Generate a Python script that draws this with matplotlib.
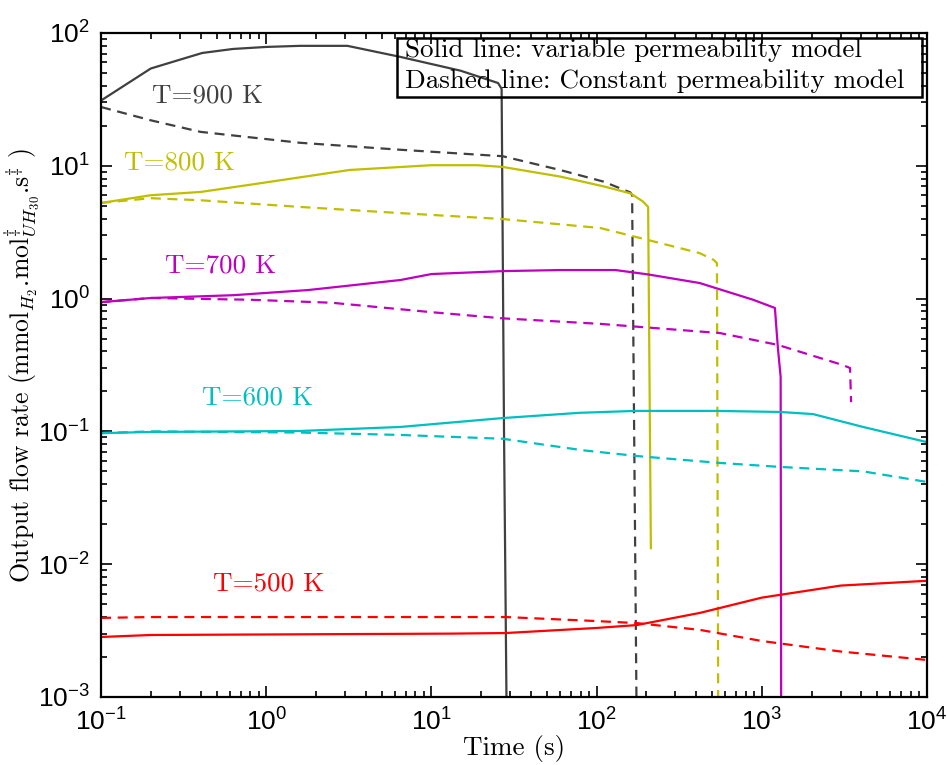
import matplotlib
matplotlib.use("Agg")
import matplotlib.pyplot as plt
from matplotlib.patches import Rectangle
from matplotlib.ticker import LogLocator, NullFormatter

plt.rcParams['font.family'] = ['Liberation Sans', 'DejaVu Sans']

# ---- data ----
t900_s = [0.1, 0.2, 0.31, 0.41, 0.63, 1.0, 1.6, 3.1, 6.5, 15, 25.3, 26.6, 27.5, 28.6]
y900_s = [31, 54, 63.7, 70.7, 75.8, 78.5, 80, 80, 66, 52, 42, 38, 0.1, 0.0005]
t900_d = [0.1, 0.2, 0.4, 1.6, 6.5, 27, 60, 110, 160, 164, 175]
y900_d = [27.7, 22, 18, 14.9, 13.2, 11.8, 9.3, 7.6, 6.3, 6.0, 0.0005]

t800_s = [0.1, 0.2, 0.4, 0.8, 3.2, 10, 19, 27, 60, 110, 160, 190, 205, 213]
y800_s = [5.25, 6.0, 6.35, 7.2, 9.3, 10.1, 10.1, 9.8, 8.3, 7.0, 6.2, 5.4, 4.9, 0.0132]
t800_d = [0.1, 0.2, 0.4, 1.6, 6.5, 27, 105, 205, 420, 510, 535, 545]
y800_d = [5.25, 5.7, 5.5, 4.9, 4.4, 3.97, 3.4, 2.76, 2.2, 1.96, 1.85, 0.0005]

t700_s = [0.1, 0.2, 0.63, 1.8, 6.5, 10, 27, 60, 130, 205, 420, 885, 1200, 1250, 1300, 1310]
y700_s = [0.94, 1.01, 1.06, 1.16, 1.38, 1.53, 1.61, 1.64, 1.64, 1.52, 1.31, 0.98, 0.85, 0.43, 0.257, 0.0005]
t700_d = [0.1, 0.2, 0.8, 2.5, 10, 27, 105, 558, 1250, 3090, 3420, 3470]
y700_d = [0.94, 1.01, 0.98, 0.93, 0.79, 0.71, 0.645, 0.55, 0.448, 0.316, 0.30, 0.166]

t600_s = [0.1, 0.2, 1.6, 6.5, 27, 79, 171, 543, 1290, 2040, 4100, 10000]
y600_s = [0.097, 0.099, 0.1007, 0.108, 0.126, 0.138, 0.1426, 0.1426, 0.14, 0.135, 0.108, 0.083]
t600_d = [0.1, 0.2, 1.6, 6.5, 27, 83, 181, 543, 1290, 4100, 10000]
y600_d = [0.097, 0.1, 0.098, 0.094, 0.088, 0.072, 0.065, 0.058, 0.054, 0.050, 0.0416]

t500_s = [0.1, 0.2, 13, 28, 100, 175, 423, 1000, 3000, 10000]
y500_s = [0.00283, 0.00293, 0.0030, 0.00303, 0.00331, 0.00348, 0.0043, 0.0056, 0.0069, 0.0075]
t500_d = [0.1, 0.2, 28, 100, 175, 423, 1000, 3000, 10000]
y500_d = [0.00394, 0.0040, 0.0040, 0.00373, 0.0036, 0.0032, 0.00264, 0.0022, 0.0019]

legend_lines = ["Solid line: variable permeability model",
                "Dashed line: Constant permeability model"]

series = [
    ("T=900 K", "#404040", t900_s, y900_s, t900_d, y900_d, 0.44, 34),
    ("T=800 K", "#BFBF00", t800_s, y800_s, t800_d, y800_d, 0.30, 10.5),
    ("T=700 K", "#BF00BF", t700_s, y700_s, t700_d, y700_d, 0.53, 1.76),
    ("T=600 K", "#00BFBF", t600_s, y600_s, t600_d, y600_d, 0.89, 0.18),
    ("T=500 K", "#FF0000", t500_s, y500_s, t500_d, y500_d, 1.03, 0.0072),
]

fig = plt.figure(figsize=(9.47, 7.65), dpi=100)
ax = fig.add_axes([0.1067, 0.0889, 0.8722, 0.868])

serif = dict(family='cmr10', math_fontfamily='cm')
FS = 19.5

for name, col, ts, ys, td, yd, lx, ly in series:
    ax.plot(ts, ys, color=col, lw=1.6, solid_joinstyle='round')
    ax.plot(td, yd, color=col, lw=1.6, ls=(0, (4.5, 3)))
    ax.text(lx, ly, name, color=col, fontsize=FS, ha='center', va='center', **serif)

ax.set_xscale('log')
ax.set_yscale('log')
ax.set_xlim(1e-1, 1e4)
ax.set_ylim(1e-3, 1e2)

ax.xaxis.set_major_locator(LogLocator(base=10, numticks=20))
ax.yaxis.set_major_locator(LogLocator(base=10, numticks=20))
ax.xaxis.set_minor_locator(LogLocator(base=10, subs=range(2, 10), numticks=100))
ax.yaxis.set_minor_locator(LogLocator(base=10, subs=range(2, 10), numticks=100))
ax.xaxis.set_minor_formatter(NullFormatter())
ax.yaxis.set_minor_formatter(NullFormatter())

ax.tick_params(which='both', direction='in', top=True, right=True, width=1.2)
ax.tick_params(which='major', length=8, labelsize=19, pad=8)
ax.tick_params(which='minor', length=4)
for s in ax.spines.values():
    s.set_linewidth(1.6)

ax.set_xlabel("Time (s)", fontsize=FS, labelpad=0, **serif)
ax.set_ylabel(r"Output flow rate (mmol$_{H_2}$.mol$^{\ddag}_{UH_{30}}$.s$^{\ddag}$ )",
              fontsize=18.5, **serif)
ax.yaxis.set_label_coords(-0.072, 0.5)

# legend-like annotation box (transparent, lines visible through it)
ax.add_patch(Rectangle((0.3584, 0.9036), 0.9939 - 0.3584, 0.9925 - 0.9036,
                       transform=ax.transAxes, fill=False, ec='black', lw=1.8, zorder=5))
ax.text(0.368, 0.9639, legend_lines[0], transform=ax.transAxes, ha='left', va='baseline',
        fontsize=FS, zorder=6, **serif)
ax.text(0.368, 0.9172, legend_lines[1], transform=ax.transAxes, ha='left', va='baseline',
        fontsize=FS, zorder=6, **serif)

fig.savefig("out.png", dpi=100)
